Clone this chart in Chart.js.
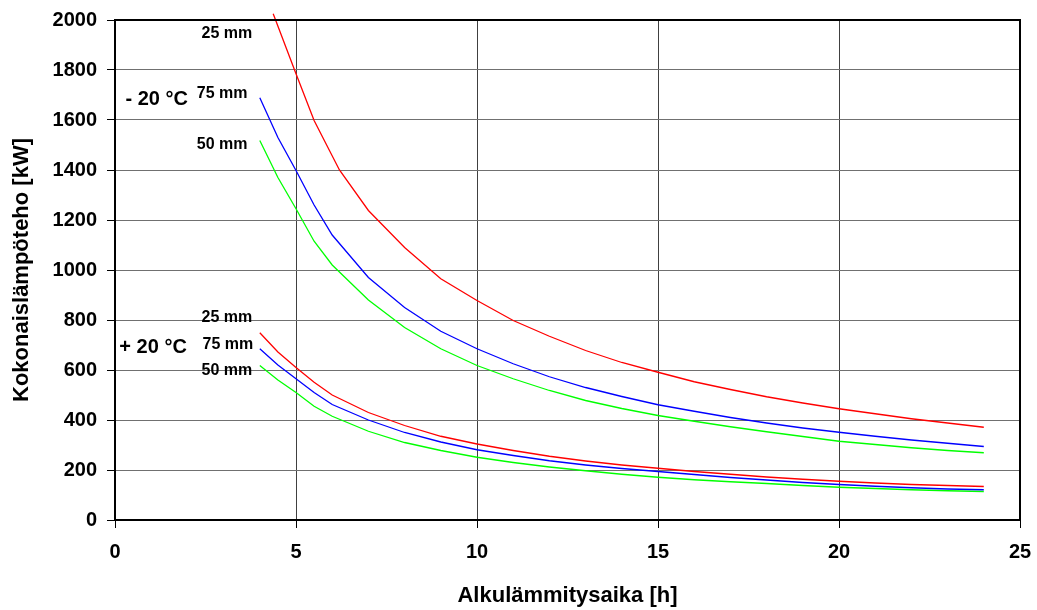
<!DOCTYPE html>
<html>
<head>
<meta charset="utf-8">
<script src="https://cdn.jsdelivr.net/npm/chart.js@4/dist/chart.umd.min.js"></script>
<style>
  body { margin: 0; background: #fff; }
  #wrap { width: 1037px; height: 610px; }
</style>
</head>
<body>
<div id="wrap"><canvas id="heatChart" width="1037" height="610"></canvas></div>
<script>
// heating time [h]
const hours = [4, 4.5, 5, 5.5, 6, 7, 8, 9, 10, 11, 12, 13, 14, 15, 16, 17, 18, 19, 20, 21, 22, 23, 24];
// the red -20 curve starts a bit later (top of scale)
const hoursCold25 = [4.37, 5, 5.5, 6.2, 7, 8, 9, 10, 11, 12, 13, 14, 15, 16, 17, 18, 19, 20, 21, 22, 23, 24];

// total heating power [kW], -20 °C
const cold25 = [2025, 1785, 1598, 1400, 1238, 1090, 965, 878, 798, 735, 678, 630, 591, 553, 522, 493, 468, 445, 425, 405, 388, 371];
const cold75 = [1689, 1530, 1398, 1260, 1140, 970, 850, 755, 685, 625, 573, 530, 494, 461, 435, 410, 388, 368, 351, 335, 320, 307, 294];
const cold50 = [1518, 1370, 1245, 1115, 1020, 880, 770, 685, 618, 565, 518, 478, 446, 418, 395, 373, 353, 334, 315, 302, 289, 278, 269];

// total heating power [kW], +20 °C
const warm25 = [749, 672, 610, 551, 500, 430, 378, 335, 304, 278, 255, 236, 220, 207, 194, 183, 172, 163, 155, 148, 142, 138, 134];
const warm75 = [685, 620, 565, 510, 462, 400, 350, 312, 281, 258, 237, 220, 206, 194, 182, 170, 160, 150, 142, 135, 129, 124, 121];
const warm50 = [618, 560, 510, 455, 415, 355, 310, 278, 251, 230, 212, 197, 183, 171, 161, 153, 146, 138, 131, 126, 121, 117, 114];

const xTicks = [0, 5, 10, 15, 20, 25];
const yTicks = [0, 200, 400, 600, 800, 1000, 1200, 1400, 1600, 1800, 2000];

function pts(xs, ys) {
    return ys.map((v, i) => ({ x: xs[i], y: v }));
}

function line(label, xs, ys, color) {
    return {
        label: label,
        data: pts(xs, ys),
        borderColor: color,
        backgroundColor: color,
        borderWidth: 1.3,
        pointRadius: 0,
        tension: 0,
        fill: false,
        clip: 10
    };
}

// text notes in the plot, placed in data units
const notes = [
    { text: '25 mm',   x: 3.79, y: 1946, align: 'right', size: 16 },
    { text: '- 20 °C', x: 0.29, y: 1682, align: 'left',  size: 20 },
    { text: '75 mm',   x: 3.66, y: 1706, align: 'right', size: 16 },
    { text: '50 mm',   x: 3.66, y: 1502, align: 'right', size: 16 },
    { text: '25 mm',   x: 3.79, y: 810,  align: 'right', size: 16 },
    { text: '+ 20 °C', x: 0.12, y: 690,  align: 'left',  size: 20 },
    { text: '75 mm',   x: 3.82, y: 702,  align: 'right', size: 16 },
    { text: '50 mm',   x: 3.79, y: 598,  align: 'right', size: 16 }
];

const notesPlugin = {
    id: 'notes',
    afterDatasetsDraw(chart) {
        const ctx = chart.ctx;
        const xs = chart.scales.x, ys = chart.scales.y;
        const a = chart.chartArea;
        ctx.save();
        // frame top/right
        ctx.strokeStyle = '#000';
        ctx.lineWidth = 2;
        ctx.beginPath();
        ctx.moveTo(a.left, a.top);
        ctx.lineTo(a.right, a.top);
        ctx.lineTo(a.right, a.bottom);
        ctx.stroke();

        ctx.fillStyle = '#000';
        ctx.textBaseline = 'middle';
        notes.forEach(n => {
            ctx.font = 'bold ' + n.size + 'px "Liberation Sans", Arial, sans-serif';
            ctx.textAlign = n.align;
            ctx.fillText(n.text, xs.getPixelForValue(n.x), ys.getPixelForValue(n.y));
        });
        ctx.restore();
    }
};

const tickFont = { family: '"Liberation Sans", Arial, sans-serif', size: 20, weight: 'bold' };
const titleFont = { family: '"Liberation Sans", Arial, sans-serif', size: 22, weight: 'bold' };

new Chart(document.getElementById('heatChart'), {
    type: 'line',
    data: {
        datasets: [
            line('-20 °C 25 mm', hoursCold25, cold25, '#ff0000'),
            line('-20 °C 75 mm', hours, cold75, '#0000ff'),
            line('-20 °C 50 mm', hours, cold50, '#00ff00'),
            line('+20 °C 25 mm', hours, warm25, '#ff0000'),
            line('+20 °C 75 mm', hours, warm75, '#0000ff'),
            line('+20 °C 50 mm', hours, warm50, '#00ff00')
        ]
    },
    options: {
        responsive: false,
        animation: false,
        layout: { padding: { top: 20, right: 17, left: 0, bottom: 0 } },
        plugins: {
            legend: { display: false },
            tooltip: { enabled: false }
        },
        scales: {
            x: {
                type: 'linear',
                min: 0,
                max: 25,
                afterBuildTicks: s => { s.ticks = xTicks.map(v => ({ value: v })); },
                afterFit: s => { s.height = 90; s.paddingLeft = 0; s.paddingRight = 0; },
                grid: { color: '#404040', lineWidth: 1, tickLength: 8, tickColor: '#000' },
                border: { color: '#000', width: 2 },
                ticks: { color: '#000', font: tickFont, padding: 12, maxRotation: 0 },
                title: { display: true, text: 'Alkulämmitysaika [h]', color: '#000', font: titleFont, padding: { top: 0, bottom: 1 } }
            },
            y: {
                min: 0,
                max: 2000,
                afterBuildTicks: s => { s.ticks = yTicks.map(v => ({ value: v })); },
                afterFit: s => { s.width = 115; s.paddingTop = 0; s.paddingBottom = 0; },
                grid: { color: '#707070', lineWidth: 1, tickLength: 8, tickColor: '#000' },
                border: { color: '#000', width: 2 },
                ticks: { color: '#000', font: tickFont, padding: 10, callback: v => String(v) },
                title: { display: true, text: 'Kokonaislämpöteho [kW]', color: '#000', font: titleFont, padding: { top: 9, bottom: 0 } }
            }
        }
    },
    plugins: [notesPlugin]
});
</script>
</body>
</html>
